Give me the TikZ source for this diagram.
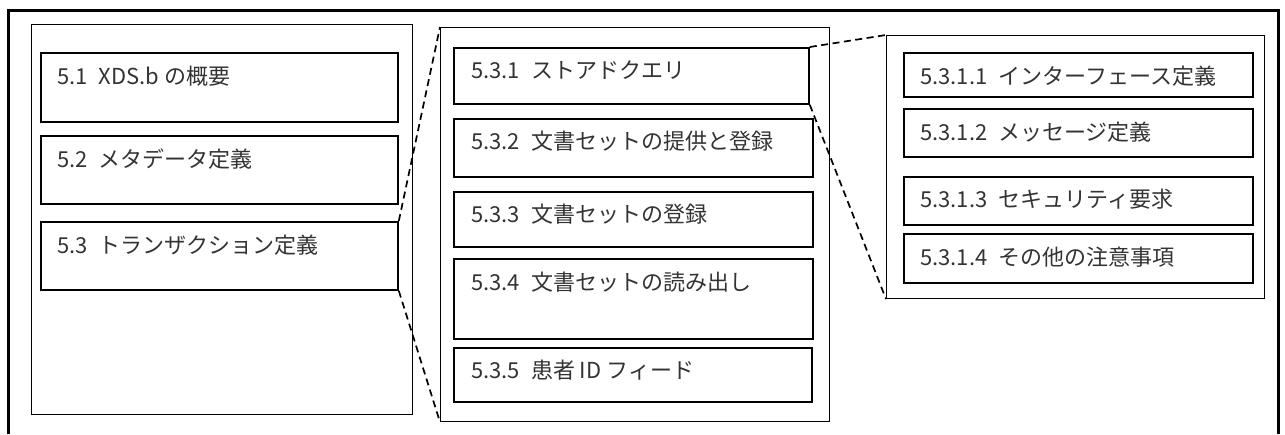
\documentclass[tikz,border=0pt]{standalone}
\usepackage{fontspec}
\setmainfont{Noto Sans CJK JP}
\usetikzlibrary{positioning,calc}

\begin{document}
\begin{tikzpicture}[
    x=1pt, y=-1pt,
    frame/.style={line width=3pt},
    panel/.style={draw, line width=1.1pt, anchor=north west, inner sep=0pt},
    secbox/.style={draw, line width=1.8pt, anchor=north west, inner sep=0pt},
    sectext/.style={anchor=west, inner sep=0pt, font=\fontsize{22}{26}\selectfont, text=black!80},
    zoomline/.style={line width=1.7pt, dash pattern=on 7pt off 4.5pt}
  ]
    \useasboundingbox (0,0) rectangle (1285,434);
    % Outer frame, open at the bottom
    \draw[frame] (8,434) -- (8,10) -- (1278,10) -- (1278,434);
    % Left panel
    \node[panel, minimum width=381pt, minimum height=390pt] (pleft) at (31,24) {};
    \node[secbox, minimum width=357pt, minimum height=69pt] (s51) at (40,52) {};
    \node[secbox, minimum width=357pt, minimum height=68pt] (s52) at (40,135) {};
    \node[secbox, minimum width=357pt, minimum height=68pt] (s53) at (40,221) {};
    \node[sectext] (t51) at ($(s51.north west)+(17,24)$) {5.1\enspace XDS.b の概要};
    \node[sectext] (t52) at ($(s52.north west)+(17,24)$) {5.2\enspace メタデータ定義};
    \node[sectext] (t53) at ($(s53.north west)+(17,24)$) {5.3\enspace トランザクション定義};
    % Middle panel
    \node[panel, minimum width=389pt, minimum height=394pt] (pmid) at (440,27) {};
    \node[secbox, minimum width=355pt, minimum height=56pt] (s531) at (453,47) {};
    \node[secbox, minimum width=359pt, minimum height=58pt] (s532) at (453,118) {};
    \node[secbox, minimum width=359pt, minimum height=55pt] (s533) at (453,191) {};
    \node[secbox, minimum width=359pt, minimum height=80pt] (s534) at (453,258) {};
    \node[secbox, minimum width=358pt, minimum height=54pt] (s535) at (453,347) {};
    \node[sectext] (t531) at ($(s531.north west)+(18,23)$) {5.3.1\enspace ストアドクエリ};
    \node[sectext] (t532) at ($(s532.north west)+(18,23)$) {5.3.2\enspace 文書セットの提供と登録};
    \node[sectext] (t533) at ($(s533.north west)+(18,23)$) {5.3.3\enspace 文書セットの登録};
    \node[sectext] (t534) at ($(s534.north west)+(18,24)$) {5.3.4\enspace 文書セットの読み出し};
    \node[sectext] (t535) at ($(s535.north west)+(18,23)$) {5.3.5\enspace 患者 ID フィード};
    % Right panel
    \node[panel, minimum width=378pt, minimum height=263pt] (pright) at (886,35) {};
    \node[secbox, minimum width=349pt, minimum height=44pt] (s5311) at (903,52) {};
    \node[secbox, minimum width=349pt, minimum height=48pt] (s5312) at (903,108) {};
    \node[secbox, minimum width=349pt, minimum height=48pt] (s5313) at (903,176) {};
    \node[secbox, minimum width=349pt, minimum height=49pt] (s5314) at (903,233) {};
    \node[sectext] (t5311) at ($(s5311.north west)+(17,24)$) {5.3.1.1\enspace インターフェース定義};
    \node[sectext] (t5312) at ($(s5312.north west)+(17,24)$) {5.3.1.2\enspace メッセージ定義};
    \node[sectext] (t5313) at ($(s5313.north west)+(17,23)$) {5.3.1.3\enspace セキュリティ要求};
    \node[sectext] (t5314) at ($(s5314.north west)+(17,24)$) {5.3.1.4\enspace その他の注意事項};
    % Zoom lines
    \draw[zoomline] (s53.north east) -- (pmid.north west);
    \draw[zoomline] (s53.south east) -- (pmid.south west);
    \draw[zoomline] (s531.north east) -- (pright.north west);
    \draw[zoomline] (s531.south east) -- (pright.south west);
\end{tikzpicture}
\end{document}
